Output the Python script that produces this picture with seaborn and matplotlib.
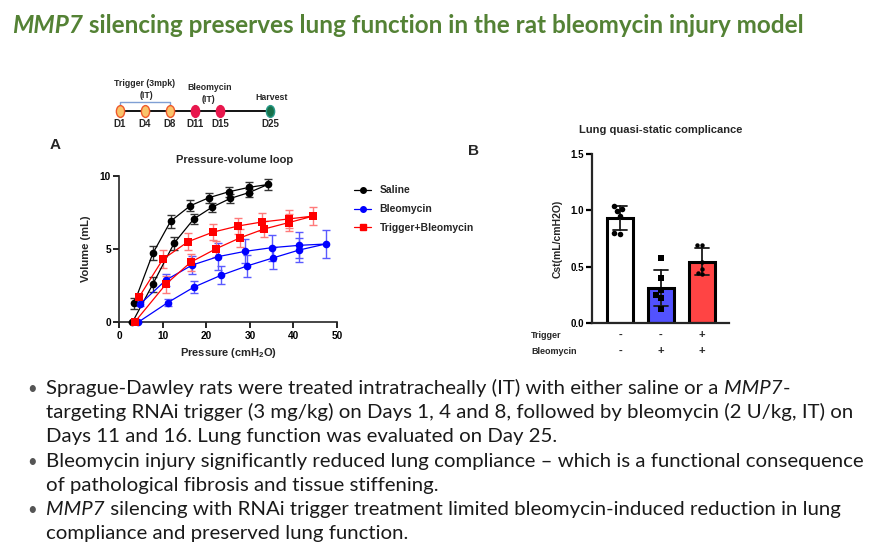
import numpy as np
import pandas as pd
import seaborn as sns
import matplotlib.pyplot as plt
from matplotlib.lines import Line2D
from matplotlib.markers import MarkerStyle
from matplotlib.transforms import Affine2D, blended_transform_factory

# ---------------- data ----------------
# Panel A: pressure-volume loop (inflation limb then deflation limb)
sal_p = [3.0, 7.7, 12.6, 17.1, 21.3, 25.5, 29.8, 34.1, 29.7, 25.1, 20.6, 16.3, 11.8, 7.7, 3.4]
sal_v = [0.0, 2.6, 5.4, 7.05, 7.85, 8.45, 8.85, 9.4, 9.2, 8.9, 8.5, 7.95, 6.9, 4.7, 1.3]
sal_sd = [0.0, 0.5, 0.45, 0.36, 0.3, 0.32, 0.27, 0.4, 0.35, 0.32, 0.35, 0.36, 0.45, 0.48, 0.38]

bleo_p = [4.3, 11.1, 17.2, 23.3, 29.3, 35.3, 41.3, 47.4, 41.3, 35.0, 28.9, 22.7, 16.7, 10.7, 4.8]
bleo_v = [0.0, 1.34, 2.41, 3.2, 3.84, 4.39, 4.93, 5.34, 5.25, 5.09, 4.84, 4.48, 3.9, 2.88, 1.25]
bleo_sd = [0.0, 0.23, 0.43, 0.62, 0.74, 0.77, 0.85, 0.95, 0.88, 0.88, 0.82, 0.93, 0.62, 0.43, 0.15]

trig_p = [3.5, 10.7, 16.4, 22.1, 27.8, 33.2, 38.9, 44.6, 38.9, 32.7, 27.3, 21.5, 15.8, 10.0, 4.5]
trig_v = [0.0, 2.6, 4.1, 5.0, 5.77, 6.36, 6.8, 7.25, 7.05, 6.84, 6.57, 6.15, 5.5, 4.3, 1.7]
trig_sd = [0.0, 0.57, 0.57, 0.57, 0.6, 0.57, 0.57, 0.6, 0.62, 0.62, 0.53, 0.57, 0.6, 0.62, 0.2]

pv_groups = ['Saline', 'Bleomycin', 'Trigger+Bleomycin']

# Panel B: quasi-static compliance, individual animals
cst_saline = [1.035, 1.015, 0.994, 0.953, 0.789, 0.804]
cst_bleo = [0.579, 0.404, 0.295, 0.251, 0.228, 0.129]
cst_trig = [0.690, 0.690, 0.541, 0.482, 0.447, 0.433]
trigger_row = ['-', '-', '+']
bleo_row = ['-', '+', '+']

# timeline
tl_days = ['D1', 'D4', 'D8', 'D11', 'D15', 'D25']
tl_slot = [0, 1, 2, 3, 4, 6]
tl_kind = ['trigger', 'trigger', 'trigger', 'bleo', 'bleo', 'harvest']

# ---------------- style ----------------
sns.set_theme(style='ticks')
plt.rcParams['font.family'] = ['Liberation Sans', 'DejaVu Sans']
plt.rcParams['mathtext.fontset'] = 'custom'
plt.rcParams['mathtext.rm'] = 'Liberation Sans:bold'
plt.rcParams['mathtext.bf'] = 'Liberation Sans:bold'

W, H = 890, 550
fig = plt.figure(figsize=(W / 100, H / 100), dpi=100)


def px_axes(left, top, right, bottom):
    """axes from pixel box"""
    return fig.add_axes([left / W, 1 - bottom / H, (right - left) / W, (bottom - top) / H])


def bold_ticks(ax, size):
    for lab in ax.get_xticklabels() + ax.get_yticklabels():
        lab.set_fontweight('bold')
        lab.set_fontsize(size)


# ---------------- slide title ----------------
fig.canvas.draw()
renderer = fig.canvas.get_renderer()


def draw_runs(x, y, runs, **kw):
    """draw text pieces one after another (pixel coords, baseline)"""
    for s, style in runs:
        t = fig.text(x / W, 1 - y / H, s, style=style, va='baseline', ha='left', **kw)
        x += t.get_window_extent(renderer).width


title_kw = dict(family='Lato', fontsize=17.5, fontweight='bold', color='#548235')
draw_runs(12, 33, [('MMP7', 'italic'),
                   (' silencing preserves lung function in the rat bleomycin injury model', 'normal')],
          **title_kw)

# ---------------- bullets ----------------
body_kw = dict(family='Lato', fontsize=14.7, color='#1a1a1a')
lines = [
    (True, [('Sprague-Dawley rats were treated intratracheally (IT) with either saline or a ', 'normal'),
            ('MMP7', 'italic'), ('-', 'normal')]),
    (False, [('targeting RNAi trigger (3 mg/kg) on Days 1, 4 and 8, followed by bleomycin (2 U/kg, IT) on', 'normal')]),
    (False, [('Days 11 and 16. Lung function was evaluated on Day 25.', 'normal')]),
    (True, [('Bleomycin injury significantly reduced lung compliance \u2013 which is a functional consequence', 'normal')]),
    (False, [('of pathological fibrosis and tissue stiffening.', 'normal')]),
    (True, [('MMP7', 'italic'), (' silencing with RNAi trigger treatment limited bleomycin-induced reduction in lung', 'normal')]),
    (False, [('compliance and preserved lung function.', 'normal')]),
]
for i, (bullet, runs) in enumerate(lines):
    yb = 394 + 24.2 * i
    if bullet:
        fig.text(27 / W, 1 - yb / H, '\u2022', va='baseline', ha='left',
                 family='Lato', fontsize=12, color='#555555')
    draw_runs(46, yb, runs, **body_kw)

# ---------------- timeline ----------------
ax_t = px_axes(100, 75, 290, 132)
ax_t.set_xlim(-0.8, 6.8)
ax_t.set_ylim(132, 75)
ax_t.axis('off')
ax_t.plot([tl_slot[0], tl_slot[-1]], [111, 111], color='black', lw=1.3, zorder=1)
ax_t.plot([0, 0, 2, 2], [106, 102, 102, 106], color='#7f9fd4', lw=1.0)
dot_face = {'trigger': '#f9c46b', 'bleo': '#e8174d', 'harvest': '#17724a'}
dot_edge = {'trigger': '#f0592b', 'bleo': '#e8174d', 'harvest': '#2a9a8a'}
oval = MarkerStyle('o', transform=Affine2D().scale(0.7, 1.0))
for d, s, k in zip(tl_days, tl_slot, tl_kind):
    ax_t.plot(s, 111, marker=oval, ms=8.5, mfc=dot_face[k], mec=dot_edge[k], mew=1.0,
              ls='none', zorder=3)
    ax_t.text(s, 124, d, ha='center', va='center', fontsize=7, fontweight='bold')
ax_t.text(1.0, 83, 'Trigger (3mpk)', ha='center', va='center', fontsize=6.3, fontweight='bold')
ax_t.text(1.05, 95, '(IT)', ha='center', va='center', fontsize=6.3, fontweight='bold')
ax_t.text(3.6, 87, 'Bleomycin', ha='center', va='center', fontsize=6.3, fontweight='bold')
ax_t.text(3.52, 99, '(IT)', ha='center', va='center', fontsize=6.3, fontweight='bold')
ax_t.text(6.07, 97, 'Harvest', ha='center', va='center', fontsize=6.3, fontweight='bold')

# ---------------- panel A ----------------
pv = pd.concat([
    pd.DataFrame({'group': g, 'pressure': p, 'volume': v, 'sd': e, 'step': range(len(p))})
    for g, p, v, e in zip(pv_groups, [sal_p, bleo_p, trig_p], [sal_v, bleo_v, trig_v],
                          [sal_sd, bleo_sd, trig_sd])
])
pv_colors = {'Saline': 'black', 'Bleomycin': '#0000ff', 'Trigger+Bleomycin': '#ff0000'}
err_colors = {'Saline': '#333333', 'Bleomycin': '#5a5aff', 'Trigger+Bleomycin': '#ff7a7a'}
pv_markers = {'Saline': 'o', 'Bleomycin': 'o', 'Trigger+Bleomycin': 's'}

ax_a = px_axes(119.3, 175.7, 337, 322.3)
for g in pv_groups:
    sub = pv[pv.group == g]
    ax_a.errorbar(sub.pressure, sub.volume, yerr=sub.sd, fmt='none', ecolor=err_colors[g],
                  elinewidth=1.0, capsize=2.8, capthick=1.0, zorder=2, clip_on=False)
sns.lineplot(data=pv, x='pressure', y='volume', hue='group', style='group',
             markers=pv_markers, dashes=False, sort=False, estimator=None, units='group',
             palette=pv_colors, linewidth=0.9, markersize=5.5, markeredgewidth=0,
             legend=False, ax=ax_a, zorder=3, clip_on=False)
ax_a.set_xlim(0, 50)
ax_a.set_ylim(0, 10)
ax_a.set_xticks([0, 10, 20, 30, 40, 50])
ax_a.set_yticks([0, 5, 10])
sns.despine(ax=ax_a)
for sp in ['left', 'bottom']:
    ax_a.spines[sp].set_linewidth(1.2)
ax_a.tick_params(width=1.2, length=4, pad=2, colors='black')
bold_ticks(ax_a, 7.3)
ax_a.set_xlabel('Pressure (cmH$_\\mathregular{2}$O)', fontsize=8, fontweight='bold', labelpad=4)
ax_a.set_ylabel('Volume (mL)', fontsize=8, fontweight='bold', labelpad=6)
ax_a.set_title('Pressure-volume loop', fontsize=8, fontweight='bold', pad=9, x=0.53)
fig.text(50 / W, 1 - 145 / H, 'A', fontsize=11, fontweight='bold', va='center')

handles = [Line2D([], [], color=pv_colors[g], marker=pv_markers[g], ms=4, lw=0.9)
           for g in pv_groups]
ax_a.legend(handles, pv_groups, loc='upper left', bbox_to_anchor=(345 / W, 1 - 176 / H),
            bbox_transform=fig.transFigure, frameon=False, handlelength=1.6,
            labelspacing=0.85, prop={'weight': 'bold', 'size': 7.5})

# ---------------- panel B ----------------
b_groups = ['Saline', 'Bleomycin', 'Trigger+Bleomycin']
cst = pd.DataFrame({
    'group': np.repeat(b_groups, 6),
    'cst': cst_saline + cst_bleo + cst_trig,
})
ax_b = px_axes(592.3, 154, 729, 323.3)
sns.barplot(data=cst, x='group', y='cst', hue='group', order=b_groups, legend=False,
            palette={'Saline': 'white', 'Bleomycin': '#5252ff', 'Trigger+Bleomycin': '#ff4444'},
            saturation=1, errorbar='sd', capsize=0.33, width=0.63, edgecolor='black',
            linewidth=2.2, err_kws={'color': '#1a1a1a', 'linewidth': 1.3}, ax=ax_b)
for g, m, s in zip(b_groups, ['o', 's', 'o'], [4.0, 3.8, 3.2]):
    sns.swarmplot(data=cst[cst.group == g], x='group', y='cst', order=b_groups,
                  marker=m, color='black', size=s, ax=ax_b)
ax_b.set_xlim(-0.676, 2.66)
ax_b.set_ylim(0, 1.5)
ax_b.set_yticks([0, 0.5, 1.0, 1.5])
ax_b.set_yticklabels(['0.0', '0.5', '1.0', '1.5'])
sns.despine(ax=ax_b)
for sp in ['left', 'bottom']:
    ax_b.spines[sp].set_linewidth(1.6)
ax_b.tick_params(axis='y', width=1.6, length=4, pad=2, colors='black')
ax_b.tick_params(axis='x', length=0, labelbottom=False)
bold_ticks(ax_b, 7)
ax_b.set_xlabel('')
ax_b.set_ylabel('Cst(mL/cmH2O)', fontsize=7.5, fontweight='bold', labelpad=6)
ax_b.set_title('Lung quasi-static complicance', fontsize=8, fontweight='bold', pad=15, x=0.5)
fig.text(468 / W, 1 - 151 / H, 'B', fontsize=11, fontweight='bold', va='center')

tr = blended_transform_factory(ax_b.transData, ax_b.transAxes)
for i, (t, b) in enumerate(zip(trigger_row, bleo_row)):
    ax_b.text(i, -0.069, t, transform=tr, ha='center', va='center', fontsize=8, fontweight='bold')
    ax_b.text(i, -0.164, b, transform=tr, ha='center', va='center', fontsize=8, fontweight='bold')
fig.text(531 / W, 1 - 335 / H, 'Trigger', fontsize=6.5, fontweight='bold', va='center')
fig.text(531 / W, 1 - 351 / H, 'Bleomycin', fontsize=6.5, fontweight='bold', va='center')

fig.savefig('out.png', dpi=100)
